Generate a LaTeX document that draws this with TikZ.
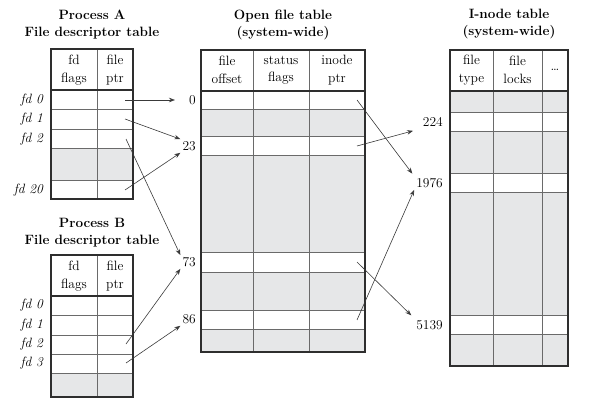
\documentclass[tikz,border=0pt]{standalone}
\usetikzlibrary{arrows.meta}
\definecolor{cellgray}{HTML}{E6E7E8}
\definecolor{innergray}{HTML}{6A6A6A}
\definecolor{outergray}{HTML}{2E2E2E}
\definecolor{linegray}{HTML}{3A3A3A}
\tikzset{
  grayrow/.style={fill=cellgray, draw=none},
  innerline/.style={draw=innergray, line width=0.7pt},
  outerline/.style={draw=outergray, line width=1.1pt},
  hdr/.style={align=center, font=\fontsize{13.5}{17.5}\selectfont, inner sep=0pt},
  ttl/.style={align=center, font=\fontsize{13.5}{17}\selectfont\bfseries, inner sep=0pt},
  fdl/.style={anchor=east, font=\fontsize{13.5}{15}\selectfont\itshape, inner sep=0pt},
  num/.style={anchor=east, font=\fontsize{13.5}{15}\selectfont, inner sep=2pt},
  ptr/.style={draw=linegray, line width=0.6pt, -{Stealth[length=6pt,width=4.5pt]}},
}
\begin{document}
\begin{tikzpicture}[x=1pt,y=-1pt]
\useasboundingbox (0,0) rectangle (591,406);

% ---------- Process A ----------
\node[ttl] (tA) at (92,24.5) {Process A\\File descriptor table};
\fill[grayrow] (51,148) rectangle (133,180);
\foreach \yy in {109,129,148,180} \draw[innerline] (51,\yy) -- (133,\yy);
\draw[innerline] (97,49) -- (97,199);
\draw[outerline] (51,90) -- (133,90);
\draw[outerline] (51,49) rectangle (133,199);
\node[hdr] (hAf) at (74,70) {fd\\flags};
\node[hdr] (hAp) at (115,70) {file\\ptr};
\node[fdl] (lA0) at (43,100) {fd 0};
\node[fdl] (lA1) at (43,119) {fd 1};
\node[fdl] (lA2) at (43,139) {fd 2};
\node[fdl] (lA20) at (43,190) {fd 20};
\coordinate (pA0) at (125,100);
\coordinate (pA1) at (125,119);
\coordinate (pA2) at (126,139);
\coordinate (pA20) at (125,190);

% ---------- Process B ----------
\node[ttl] (tB) at (92,233) {Process B\\File descriptor table};
\fill[grayrow] (51,373) rectangle (133,397);
\foreach \yy in {315,335,354,373} \draw[innerline] (51,\yy) -- (133,\yy);
\draw[innerline] (97,255) -- (97,397);
\draw[outerline] (51,296) -- (133,296);
\draw[outerline] (51,255) rectangle (133,397);
\node[hdr] (hBf) at (74,276) {fd\\flags};
\node[hdr] (hBp) at (115,276) {file\\ptr};
\node[fdl] (lB0) at (43,305) {fd 0};
\node[fdl] (lB1) at (43,325) {fd 1};
\node[fdl] (lB2) at (43,344) {fd 2};
\node[fdl] (lB3) at (43,363) {fd 3};
\coordinate (pB2) at (126,344);
\coordinate (pB3) at (126,363);

% ---------- Open file table ----------
\node[ttl] (tO) at (283,25) {Open file table\\(system-wide)};
\fill[grayrow] (201,109) rectangle (365,136);
\fill[grayrow] (201,155) rectangle (365,252);
\fill[grayrow] (201,272) rectangle (365,310);
\fill[grayrow] (201,329) rectangle (365,352);
\foreach \yy in {109,136,155,252,272,310,329} \draw[innerline] (201,\yy) -- (365,\yy);
\draw[innerline] (253,50) -- (253,352);
\draw[innerline] (309,50) -- (309,352);
\draw[outerline] (201,91) -- (365,91);
\draw[outerline] (201,50) rectangle (365,352);
\node[hdr] (hOo) at (227,70) {file\\offset};
\node[hdr] (hOs) at (281,70) {status\\flags};
\node[hdr] (hOi) at (337,70) {inode\\ptr};
\node[num] (n0) at (198,100) {0};
\node[num] (n23) at (198,146) {23};
\node[num] (n73) at (198,262) {73};
\node[num] (n86) at (198,319) {86};
\coordinate (pO0) at (357,100);
\coordinate (pO23) at (357,146);
\coordinate (pO73) at (357,262);
\coordinate (pO86) at (357,320);

% ---------- I-node table ----------
\node[ttl] (tI) at (509,24.5) {I-node table\\(system-wide)};
\fill[grayrow] (450,91) rectangle (568,112);
\fill[grayrow] (450,131) rectangle (568,173);
\fill[grayrow] (450,192) rectangle (568,315);
\fill[grayrow] (450,334) rectangle (568,366);
\foreach \yy in {112,131,173,192,315,334} \draw[innerline] (450,\yy) -- (568,\yy);
\draw[innerline] (493,50) -- (493,366);
\draw[innerline] (542,50) -- (542,366);
\draw[outerline] (450,91) -- (568,91);
\draw[outerline] (450,50) rectangle (568,366);
\node[hdr] (hIt) at (471.5,70) {file\\type};
\node[hdr] (hIl) at (517.5,70) {file\\locks};
\node[hdr] (hIx) at (555,70) {\dots};
\node[num] (n224) at (445,122) {224};
\node[num] (n1976) at (445,183) {1976};
\node[num] (n5139) at (445,325) {5139};

% ---------- pointers ----------
\draw[ptr, shorten >=12pt] (pA0) -- (n0.west);
\draw[ptr] (pA1) -- (n23.north west);
\draw[ptr] (pA20) -- (n23.south west);
\draw[ptr] (pA2) -- (n73.north west);
\draw[ptr] (pB2) -- (n73.south west);
\draw[ptr] (pB3) -- (n86.south west);
\draw[ptr, shorten >=3pt] (pO0) -- (n1976.north west);
\draw[ptr, shorten >=8pt] (pO23) -- (n224.south west);
\draw[ptr, shorten >=4pt] (pO73) -- (n5139.north west);
\draw[ptr] (pO86) -- (n1976.south west);
\end{tikzpicture}
\end{document}
